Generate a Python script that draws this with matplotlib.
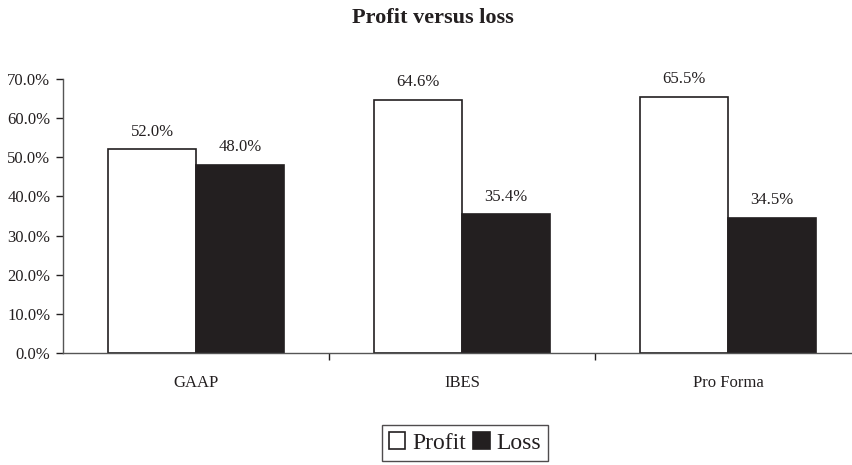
import numpy as np
import matplotlib.pyplot as plt
from matplotlib.ticker import FuncFormatter

categories = ["GAAP", "IBES", "Pro Forma"]
profit = [52.0, 64.6, 65.5]
loss = [48.0, 35.4, 34.5]

plt.rcParams['font.family'] = ['Liberation Serif', 'DejaVu Serif']

fig = plt.figure(figsize=(8.53, 4.65), dpi=100)
# axes in pixel terms: left 63, right 853, bottom 353, top 79
ax = fig.add_axes([63/853, 1 - 353/465, 790/853, 274/465])

x = np.arange(len(categories))
w = 0.33
bp = ax.bar(x - w/2, profit, w, color='white', edgecolor='#231f20', linewidth=1.2, label='Profit')
bl = ax.bar(x + w/2, loss, w, color='#231f20', edgecolor='#231f20', linewidth=1.2, label='Loss')

for xi, v in zip(x - w/2, profit):
    ax.text(xi, v + 2.5, f"{v:.1f}%", ha='center', va='bottom', fontsize=12, color='#231f20')
for xi, v in zip(x + w/2, loss):
    ax.text(xi, v + 2.5, f"{v:.1f}%", ha='center', va='bottom', fontsize=12, color='#231f20')

ax.set_ylim(0, 70)
ax.set_xlim(-0.5, -0.5 + 790/266)
ax.set_yticks(np.arange(0, 71, 10))
ax.yaxis.set_major_formatter(FuncFormatter(lambda v, p: f"{v:.1f}%"))
ax.set_xticks(x)
ax.set_xticklabels(categories)
ax.set_xticks([0.5, 1.5], minor=True)
ax.tick_params(axis='x', which='major', length=0, pad=16)
ax.tick_params(axis='x', which='minor', length=5, width=1, color='#231f20')
ax.tick_params(axis='y', length=5, width=1, color='#231f20', pad=4)
ax.tick_params(labelsize=12, labelcolor='#231f20')

for s in ['top', 'right']:
    ax.spines[s].set_visible(False)
for s in ['left', 'bottom']:
    ax.spines[s].set_color('#555555')
    ax.spines[s].set_linewidth(1)

fig.text(433/853, 1 - 18/465, "Profit versus loss", ha='center', va='center',
         fontsize=16, fontweight='bold', color='#231f20')

leg = fig.legend(handles=[bp, bl], loc='center', bbox_to_anchor=(465/853, 1 - 443/465),
                 ncol=2, frameon=True, fancybox=False, fontsize=17,
                 handlelength=0.7, handleheight=0.7, handletextpad=0.3, columnspacing=0.3,
                 borderpad=0.3)
leg.get_frame().set_edgecolor('#231f20')
leg.get_frame().set_linewidth(1)
for t in leg.get_texts():
    t.set_color('#231f20')

fig.savefig("out.png", dpi=100)
